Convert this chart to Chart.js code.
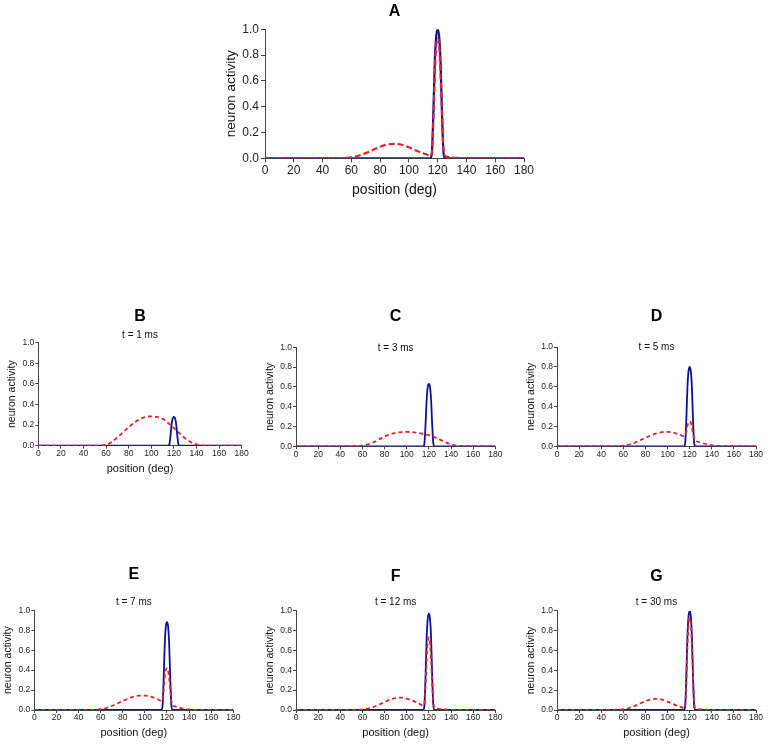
<!DOCTYPE html>
<html>
<head>
<meta charset="utf-8">
<script src="https://cdn.jsdelivr.net/npm/chart.js@4/dist/chart.umd.min.js"></script>
<style>
  html, body { margin: 0; padding: 0; background: #fff; overflow: hidden; }
  #fig { position: relative; width: 768px; height: 744px; }
</style>
</head>
<body>
<div id="fig"></div>
<script>
// tick labels
const xTicks = [0, 20, 40, 60, 80, 100, 120, 140, 160, 180];
const yTicks = [0, 0.2, 0.4, 0.6, 0.8, 1.0];

// positions (deg) where the curves were read
const posRed = [0, 50, 55, 60, 65, 70, 75, 80, 85, 90, 95, 100, 105, 110, 113, 115, 116, 117, 118, 119, 120, 121, 122, 123, 124, 125, 127, 130, 135, 140, 145, 150, 160, 180];
const posBlue = [0, 114, 115, 116, 117, 118, 119, 120, 121, 122, 123, 124, 125, 126, 180];

// dashed red curves
const redB = [0, 0, 0.003, 0.01, 0.035, 0.08, 0.13, 0.18, 0.225, 0.26, 0.28, 0.285, 0.28, 0.26, 0.24, 0.22, 0.21, 0.2, 0.19, 0.18, 0.17, 0.16, 0.15, 0.14, 0.13, 0.12, 0.1, 0.07, 0.035, 0.012, 0.003, 0, 0, 0];
const redC = [0, 0, 0.002, 0.006, 0.02, 0.04, 0.07, 0.1, 0.12, 0.135, 0.143, 0.145, 0.143, 0.135, 0.13, 0.125, 0.123, 0.12, 0.118, 0.115, 0.112, 0.109, 0.105, 0.101, 0.097, 0.092, 0.083, 0.068, 0.042, 0.02, 0.007, 0.002, 0, 0];
const redD = [0, 0, 0.002, 0.006, 0.018, 0.035, 0.06, 0.085, 0.11, 0.13, 0.143, 0.145, 0.138, 0.12, 0.108, 0.1, 0.11, 0.15, 0.21, 0.24, 0.25, 0.24, 0.19, 0.13, 0.08, 0.06, 0.048, 0.037, 0.022, 0.011, 0.005, 0.002, 0, 0];
const redE = [0, 0, 0.002, 0.008, 0.02, 0.04, 0.065, 0.09, 0.115, 0.135, 0.145, 0.145, 0.135, 0.115, 0.1, 0.09, 0.1, 0.2, 0.34, 0.4, 0.42, 0.4, 0.32, 0.2, 0.09, 0.05, 0.036, 0.026, 0.013, 0.006, 0.002, 0, 0, 0];
const redF = [0, 0.001, 0.002, 0.006, 0.015, 0.03, 0.055, 0.08, 0.105, 0.12, 0.125, 0.115, 0.095, 0.07, 0.052, 0.045, 0.07, 0.25, 0.52, 0.68, 0.73, 0.68, 0.5, 0.28, 0.08, 0.025, 0.015, 0.01, 0.005, 0.002, 0.001, 0, 0, 0];
const redG = [0, 0.001, 0.003, 0.008, 0.02, 0.04, 0.065, 0.09, 0.107, 0.112, 0.105, 0.085, 0.06, 0.038, 0.026, 0.02, 0.04, 0.3, 0.65, 0.88, 0.93, 0.88, 0.65, 0.35, 0.08, 0.02, 0.01, 0.006, 0.003, 0.001, 0, 0, 0, 0];

// solid blue curves
const blueB = [0, 0, 0, 0.014, 0.1, 0.21, 0.266, 0.28, 0.266, 0.21, 0.1, 0.014, 0, 0, 0];
const blueC = [0, 0, 0, 0.03, 0.22, 0.47, 0.6, 0.63, 0.6, 0.47, 0.22, 0.03, 0, 0, 0];
const blueD = [0, 0, 0, 0.04, 0.28, 0.6, 0.76, 0.8, 0.76, 0.6, 0.28, 0.04, 0, 0, 0];
const blueE = [0, 0, 0, 0.044, 0.31, 0.66, 0.84, 0.88, 0.84, 0.66, 0.31, 0.044, 0, 0, 0];
const blueF = [0, 0, 0, 0.05, 0.34, 0.73, 0.92, 0.97, 0.92, 0.73, 0.34, 0.05, 0, 0, 0];
const blueG = [0, 0, 0, 0.05, 0.35, 0.75, 0.95, 1.0, 0.95, 0.75, 0.35, 0.05, 0, 0, 0];

const FONT = "'Liberation Sans', Arial, sans-serif";
const AXIS = '#444';
const TEXT = '#222';

const big = { title: 16, sub: 10, tick: 12, xTitle: 14, yTitle: 13.5, tickLen: 4, tickPad: 1, yTickPad: 2, line: 2.2, dash: [6, 3] };
const small = { title: 16, sub: 10, tick: 8.5, xTitle: 11, yTitle: 10.5, tickLen: 3, tickPad: 0, yTickPad: 1, line: 1.8, dash: [4, 3] };

function panel(cfg) {
  const f = cfg.big ? big : small;
  const W = Math.round(cfg.plotR - cfg.left + 14);
  const H = cfg.height;
  const cv = document.createElement('canvas');
  cv.width = W; cv.height = H;
  cv.style.cssText = `position:absolute;left:${cfg.left}px;top:${cfg.top}px;width:${W}px;height:${H}px`;
  document.getElementById('fig').appendChild(cv);

  const tLh = f.title * 1.2, sLh = f.sub * 1.2, xLh = f.xTitle * 1.2, yLh = f.yTitle * 1.2;
  const titlePadTop = cfg.titleY - cfg.top - tLh / 2;
  let titlePadBottom = 0, subPadTop = 0, subPadBottom = 0;
  if (cfg.sub) {
    const subBoxTop = cfg.top + titlePadTop + tLh;
    subPadTop = cfg.subY - subBoxTop - sLh / 2;
    subPadBottom = cfg.plotT - (cfg.subY + sLh / 2);
  } else {
    titlePadBottom = cfg.plotT - (cfg.titleY + tLh / 2);
  }
  const yAxisW = cfg.plotL - cfg.left;
  const xAxisH = cfg.top + H - cfg.plotB;
  const xTitlePad = cfg.xTitleY ? (cfg.top + H) - cfg.xTitleY - xLh / 2 : 0;
  const yTitlePad = cfg.yTitleX - cfg.left - yLh / 2;

  new Chart(cv, {
    type: 'line',
    data: {
      datasets: [
        {
          data: posRed.map((x, i) => ({ x: x, y: cfg.red[i] })),
          borderColor: '#e8202a', borderWidth: f.line, borderDash: f.dash,
          pointRadius: 0, cubicInterpolationMode: 'monotone', fill: false
        },
        {
          data: posBlue.map((x, i) => ({ x: x, y: cfg.blue[i] })),
          borderColor: '#10109e', borderWidth: f.line,
          pointRadius: 0, cubicInterpolationMode: 'monotone', fill: false
        }
      ]
    },
    options: {
      responsive: false,
      animation: false,
      devicePixelRatio: 1,
      layout: { padding: { left: 0, top: 0, bottom: 0, right: W - (cfg.plotR - cfg.left) } },
      plugins: {
        legend: { display: false },
        tooltip: { enabled: false },
        title: {
          display: true, text: cfg.letter, fullSize: false, color: '#000',
          font: { family: FONT, size: f.title, weight: 'bold' },
          padding: { top: titlePadTop, bottom: titlePadBottom }
        },
        subtitle: {
          display: !!cfg.sub, text: cfg.sub, fullSize: false, color: '#111',
          font: { family: FONT, size: f.sub },
          padding: { top: subPadTop, bottom: subPadBottom }
        }
      },
      scales: {
        x: {
          type: 'linear', min: 0, max: 180,
          afterFit: s => { s.height = xAxisH; },
          afterBuildTicks: s => { s.ticks = xTicks.map(v => ({ value: v })); },
          ticks: { autoSkip: false, maxRotation: 0, minRotation: 0, color: TEXT, padding: f.tickPad, font: { family: FONT, size: f.tick } },
          grid: { drawOnChartArea: false, tickLength: f.tickLen, color: AXIS },
          border: { color: AXIS, width: 1 },
          title: {
            display: !!cfg.xTitleY, text: 'position (deg)', color: '#111',
            font: { family: FONT, size: f.xTitle },
            padding: { top: 0, bottom: xTitlePad }
          }
        },
        y: {
          min: 0, max: 1,
          afterFit: s => { s.width = yAxisW; },
          afterBuildTicks: s => { s.ticks = yTicks.map(v => ({ value: v })); },
          ticks: { color: TEXT, padding: f.yTickPad, font: { family: FONT, size: f.tick }, callback: v => Number(v).toFixed(1) },
          grid: { drawOnChartArea: false, tickLength: f.tickLen, color: AXIS },
          border: { color: AXIS, width: 1 },
          title: {
            display: true, text: 'neuron activity', color: '#111',
            font: { family: FONT, size: f.yTitle },
            padding: { top: yTitlePad, bottom: 0 }
          }
        }
      }
    }
  });
}

panel({ letter: 'A', sub: '', big: true, red: redG, blue: blueG,
  left: 200, top: 0, height: 205, plotL: 265, plotR: 524, plotT: 29.3, plotB: 158.3,
  titleY: 12, xTitleY: 190, yTitleX: 231 });

panel({ letter: 'B', sub: 't = 1 ms', red: redB, blue: blueB,
  left: 0, top: 290, height: 190, plotL: 38.3, plotR: 241.7, plotT: 342.7, plotB: 445.7,
  titleY: 316.7, subY: 335, xTitleY: 468.5, yTitleX: 11.7 });

panel({ letter: 'C', sub: 't = 3 ms', red: redC, blue: blueC,
  left: 258, top: 290, height: 170, plotL: 296, plotR: 495.3, plotT: 347.3, plotB: 446.3,
  titleY: 316.7, subY: 348.3, xTitleY: 0, yTitleX: 270 });

panel({ letter: 'D', sub: 't = 5 ms', red: redD, blue: blueD,
  left: 519, top: 290, height: 170, plotL: 557, plotR: 756, plotT: 347, plotB: 446.3,
  titleY: 316.7, subY: 347.3, xTitleY: 0, yTitleX: 531 });

panel({ letter: 'E', sub: 't = 7 ms', red: redE, blue: blueE,
  left: 0, top: 545, height: 199, plotL: 34.3, plotR: 233.3, plotT: 610.3, plotB: 710,
  titleY: 575, subY: 602.3, xTitleY: 733, yTitleX: 8.3 });

panel({ letter: 'F', sub: 't = 12 ms', red: redF, blue: blueF,
  left: 258, top: 545, height: 199, plotL: 296, plotR: 495.3, plotT: 610.7, plotB: 710,
  titleY: 576.7, subY: 602.3, xTitleY: 733, yTitleX: 270 });

panel({ letter: 'G', sub: 't = 30 ms', red: redG, blue: blueG,
  left: 519, top: 545, height: 199, plotL: 557, plotR: 756, plotT: 611, plotB: 710,
  titleY: 576.7, subY: 602.3, xTitleY: 733, yTitleX: 531 });
</script>
</body>
</html>
